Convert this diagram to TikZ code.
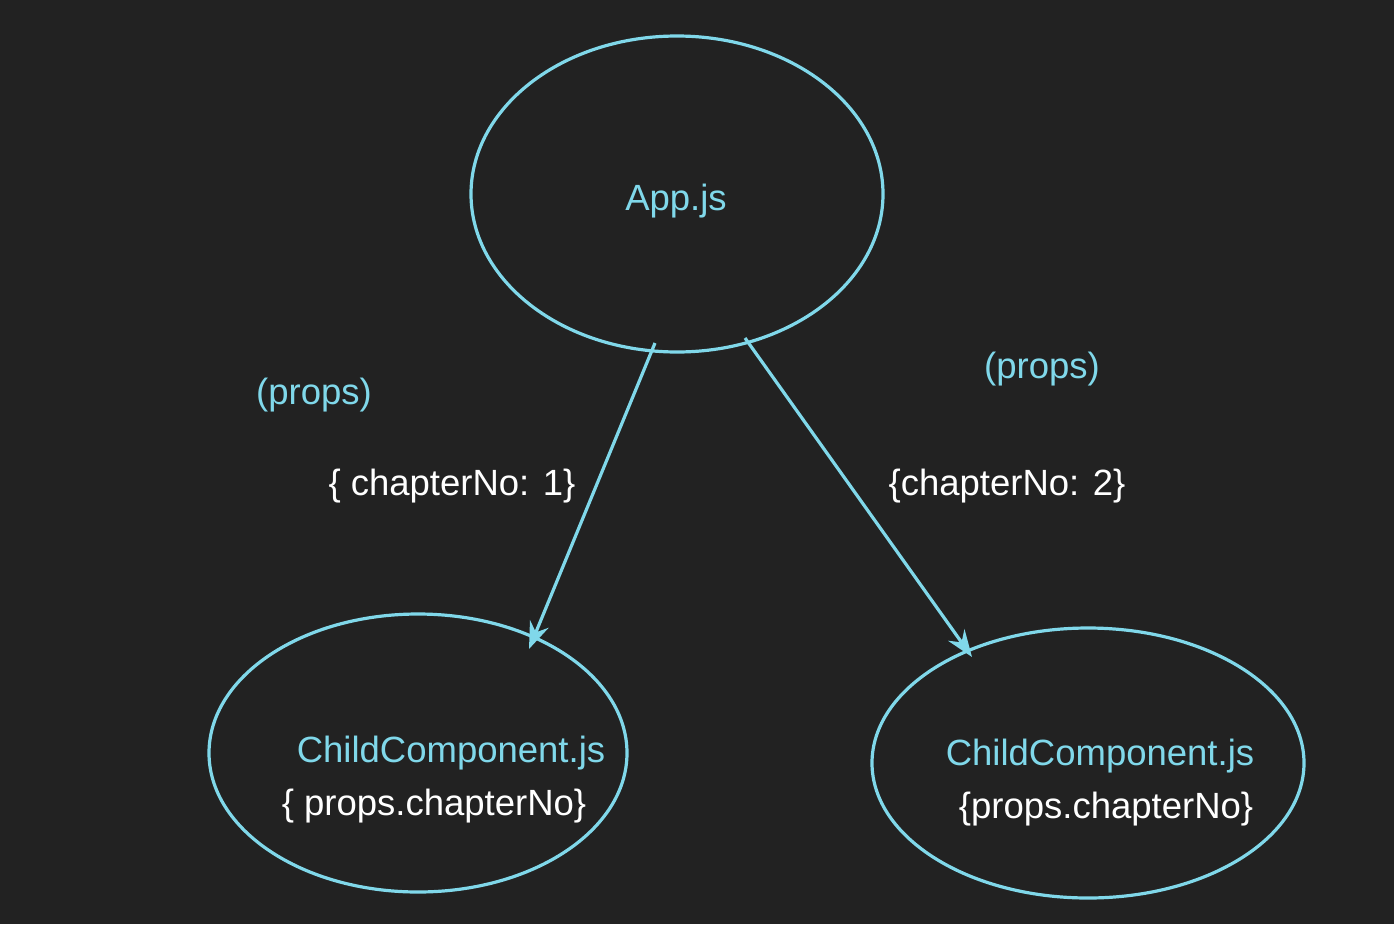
\documentclass[tikz,border=0pt]{standalone}
\usepackage{fontspec}
\setmainfont{Liberation Sans}
\usetikzlibrary{shapes.geometric,arrows.meta}
\definecolor{bg}{RGB}{34,34,34}
\definecolor{cyanline}{RGB}{128,216,234}
\begin{document}
\begin{tikzpicture}[x=1pt,y=-1pt,
  oval/.style={ellipse,draw=cyanline,line width=3.2pt,inner sep=0pt},
  cyantext/.style={text=cyanline,font=\fontsize{36.5}{42}\selectfont,inner sep=0pt},
  whitetext/.style={text=white,font=\fontsize{36.5}{42}\selectfont,inner sep=0pt},
  link/.style={draw=cyanline,line width=3.2pt,-{Stealth[length=27pt,width=20pt,inset=9pt]}}]
\fill[bg] (0,0) rectangle (1394,924);
\useasboundingbox (0,0) rectangle (1394,924);
\node[oval,minimum width=412pt,minimum height=316pt] (app) at (677,194) {};
\node[oval,minimum width=418pt,minimum height=278pt] (child1) at (418,753) {};
\node[oval,minimum width=432pt,minimum height=270pt] (child2) at (1088,763) {};
\node[cyantext] (apptxt) at (676,201) {App.js};
\node[cyantext] (props1) at (314,395) {(props)};
\node[whitetext] (chap1) at (452,486) {\{ chapterNo: 1\}};
\node[cyantext] (props2) at (1042,369) {(props)};
\node[whitetext] (chap2) at (1007,486) {\{chapterNo: 2\}};
\node[cyantext] (c1name) at (451,753) {ChildComponent.js};
\node[whitetext] (c1prop) at (434,806) {\{ props.chapterNo\}};
\node[cyantext] (c2name) at (1100,756) {ChildComponent.js};
\node[whitetext] (c2prop) at (1106,809) {\{props.chapterNo\}};
\coordinate (s1) at (655,343);
\coordinate (e1) at (529,649);
\coordinate (s2) at (745,338);
\coordinate (e2) at (972,657);
\draw[link] (s1) -- (e1);
\draw[link] (s2) -- (e2);
\end{tikzpicture}
\end{document}
